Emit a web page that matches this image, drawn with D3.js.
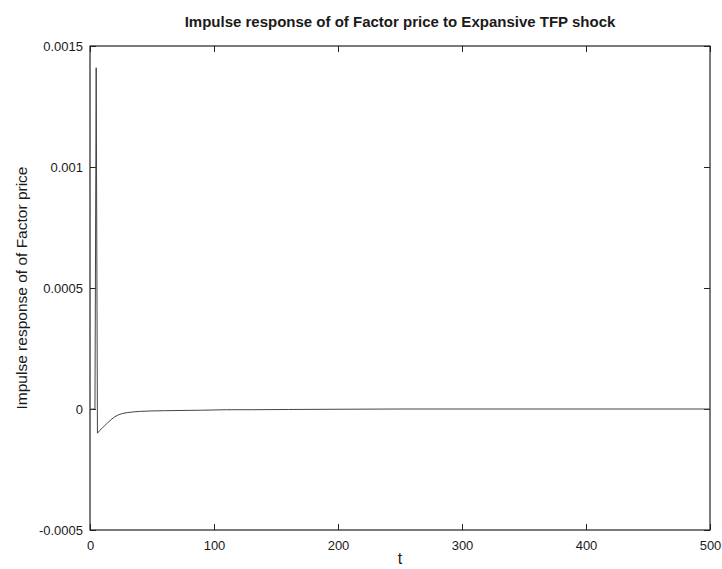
<!DOCTYPE html>
<html>
<head>
<meta charset="utf-8">
<script src="https://cdn.jsdelivr.net/npm/d3@7"></script>
<style>
  body { margin: 0; background: #fff; }
  text { font-family: "Liberation Sans", Arial, sans-serif; fill: #1a1a1a; }
</style>
</head>
<body>
<div id="chart"></div>
<script>
// periods and impulse response values
const periods = [1, 2, 3, 4, 5, 6, 8, 10, 12, 14, 17, 20, 23, 26, 30, 35, 40, 50, 60, 75, 90, 110, 130, 160, 200, 250, 300, 400, 500];
const response = [0, 0, 0, 0, 0.00141, -0.000100, -0.000088, -0.000078, -0.000068, -0.000058, -0.000044, -0.000032,
    -0.000024, -0.000019, -0.000015, -0.000012, -0.000010, -0.000008, -0.000007, -0.000006, -0.000005, -0.000003,
    -0.000003, -0.000002, -0.000001, 0, 0, 0, 0];
const xTicks = [0, 100, 200, 300, 400, 500];
const yTicks = [-0.0005, 0, 0.0005, 0.001, 0.0015];
const yTickLabels = ["-0.0005", "0", "0.0005", "0.001", "0.0015"];

const width = 722, height = 569;
const margin = { top: 46, right: 12, bottom: 39, left: 90 };

const svg = d3.select("#chart").append("svg")
    .attr("width", width)
    .attr("height", height);

const x = d3.scaleLinear().domain([0, 500]).range([margin.left, width - margin.right]);
const y = d3.scaleLinear().domain([-0.0005, 0.0015]).range([height - margin.bottom, margin.top]);

const tickLen = 6;

// bottom and top axes, ticks pointing inward
svg.append("g")
    .attr("transform", `translate(0,${height - margin.bottom})`)
    .call(d3.axisBottom(x).tickValues(xTicks).tickSizeInner(-tickLen).tickSizeOuter(0).tickPadding(11).tickFormat(d3.format("d")))
    .call(g => g.select(".domain").remove())
    .call(g => g.selectAll("text").attr("font-size", 13));

svg.append("g")
    .attr("transform", `translate(0,${margin.top})`)
    .call(d3.axisTop(x).tickValues(xTicks).tickSizeInner(-tickLen).tickSizeOuter(0).tickFormat(""))
    .call(g => g.select(".domain").remove());

svg.append("g")
    .attr("transform", `translate(${margin.left},0)`)
    .call(d3.axisLeft(y).tickValues(yTicks).tickSizeInner(-tickLen).tickSizeOuter(0).tickPadding(7)
        .tickFormat((d, i) => yTickLabels[i]))
    .call(g => g.select(".domain").remove())
    .call(g => g.selectAll("text").attr("font-size", 13));

svg.append("g")
    .attr("transform", `translate(${width - margin.right},0)`)
    .call(d3.axisRight(y).tickValues(yTicks).tickSizeInner(-tickLen).tickSizeOuter(0).tickFormat(""))
    .call(g => g.select(".domain").remove());

svg.selectAll(".tick line").attr("stroke", "#222");

// frame
svg.append("rect")
    .attr("x", margin.left)
    .attr("y", margin.top)
    .attr("width", width - margin.left - margin.right)
    .attr("height", height - margin.top - margin.bottom)
    .attr("fill", "none")
    .attr("stroke", "#222")
    .attr("stroke-width", 1.2);

// response line
const line = d3.line()
    .x((d, i) => x(periods[i]))
    .y(d => y(d));

svg.append("path")
    .datum(response)
    .attr("d", line)
    .attr("fill", "none")
    .attr("stroke", "#444")
    .attr("stroke-width", 1);

// title and labels
svg.append("text")
    .attr("x", (margin.left + width - margin.right) / 2)
    .attr("y", 27)
    .attr("text-anchor", "middle")
    .attr("font-size", 15)
    .attr("font-weight", "bold")
    .text("Impulse response of of Factor price to Expansive TFP shock");

svg.append("text")
    .attr("x", (margin.left + width - margin.right) / 2)
    .attr("y", 564)
    .attr("text-anchor", "middle")
    .attr("font-size", 16)
    .text("t");

svg.append("text")
    .attr("transform", `translate(27,${(margin.top + height - margin.bottom) / 2}) rotate(-90)`)
    .attr("text-anchor", "middle")
    .attr("font-size", 15.5)
    .text("Impulse response of of Factor price");
</script>
</body>
</html>
